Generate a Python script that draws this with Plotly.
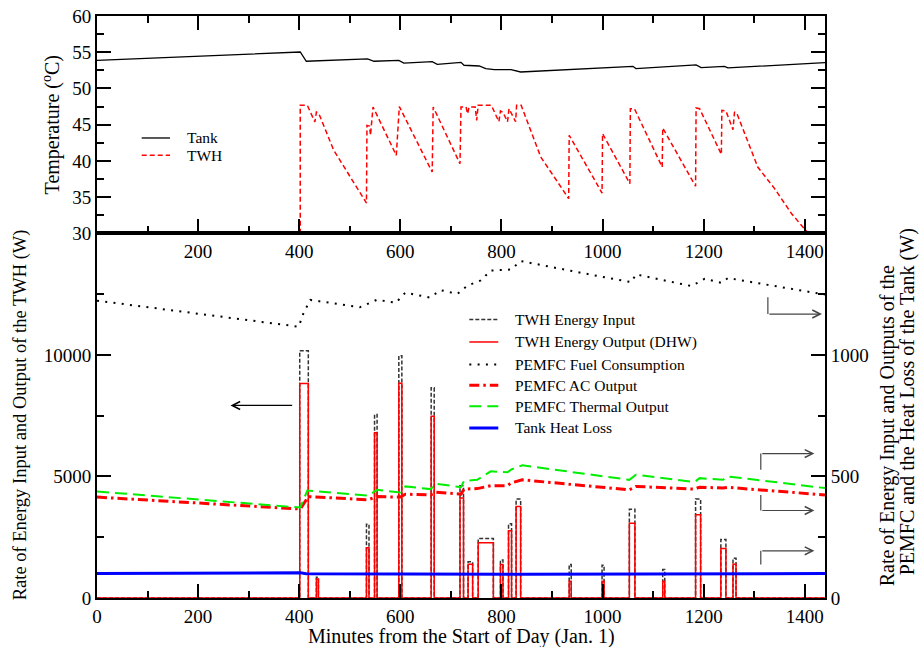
import plotly.graph_objects as go

# ---------------- data ----------------
# Top panel: temperatures (deg C)
tank_min = [0, 402, 414, 535, 548, 597, 607, 663, 673, 720, 726, 756, 769, 786, 819, 838,
            1060, 1066, 1185, 1195, 1241, 1248, 1440]
tank_temp = [53.88, 55.03, 53.75, 54.07, 53.75, 53.88, 53.5, 53.7, 53.33, 53.6, 53.2, 53.1, 52.74,
             52.6, 52.6, 52.27, 53.05, 52.74, 53.24, 52.87, 53.05, 52.83, 53.57]

twh_min = [402, 402, 416, 431, 434, 439, 468, 501, 533, 534, 539, 541, 546, 592, 598, 663, 665,
           718, 720, 730, 733, 736, 748, 751, 754, 780, 795, 798, 803, 812, 815, 828, 830, 839,
           878, 911, 933, 934, 999, 1000, 1054, 1055, 1063, 1118, 1119, 1184, 1185, 1192, 1235,
           1236, 1244, 1258, 1261, 1266, 1307, 1340, 1374, 1407, 1440]
twh_temp = [20, 47.67, 47.67, 45.37, 46.75, 46.5, 41.5, 37.8, 34.18, 44.9, 44.8, 43.53, 47.44,
            40.77, 47.5, 38.46, 47.44, 39.6, 47.44, 47.44, 46.5, 47.44, 47.44, 45.6, 47.67, 47.67,
            45.4, 46.9, 46.7, 45.4, 47.2, 45.4, 47.67, 47.67, 40.5, 37.1, 34.78, 43.53, 35.56,
            43.76, 36.86, 47.2, 47.2, 39.15, 44.54, 36.5, 47.3, 47.2, 40.9, 46.98, 46.9, 44.3,
            46.75, 46.5, 39.15, 36.2, 32.7, 30.0, 27.5]

# Bottom panel: TWH energy pulses (W, left axis)
pulse_start = [401, 434, 533, 549, 597, 661, 718, 734, 754, 798, 814, 829, 934, 999, 1053, 1119,
               1184, 1234, 1258]
pulse_end = [418, 438, 538, 554, 603, 667, 725, 743, 784, 803, 820, 838, 938, 1003, 1064, 1123,
             1194, 1244, 1264]
twh_input = [10170, 850, 3030, 7550, 9960, 8650, 4620, 1490, 2450, 1560, 3050, 4070, 1380, 1350,
             3650, 1170, 4070, 2410, 1630]
twh_output = [8820, 780, 2070, 6800, 8830, 7480, 4110, 1390, 2270, 1380, 2770, 3760, 690, 690,
              3070, 690, 3420, 2040, 1390]

# PEMFC and tank (W, right axis)
fuel_min = [0, 399, 409, 422, 520, 554, 591, 610, 658, 680, 713, 733, 759, 779, 819, 838, 984,
            1057, 1066, 1176, 1202, 1235, 1248, 1440]
fuel_w = [1223, 1116, 1175, 1226, 1196, 1227, 1214, 1256, 1236, 1266, 1251, 1285, 1306, 1347,
          1351, 1386, 1327, 1299, 1331, 1283, 1313, 1296, 1316, 1248]

ac_min = [0, 402, 418, 536, 554, 600, 610, 660, 670, 720, 726, 752, 779, 812, 819, 841, 1053,
          1066, 1182, 1192, 1238, 1248, 1440]
ac_w = [415, 366, 417, 404, 417, 415, 427, 424, 435, 427, 448, 450, 462, 462, 473, 486, 445,
        459, 448, 456, 452, 455, 424]

th_min = [0, 402, 416, 536, 554, 600, 610, 660, 670, 720, 726, 752, 779, 812, 819, 841, 1053,
          1066, 1182, 1192, 1238, 1248, 1440]
th_w = [438, 372, 442, 421, 445, 434, 459, 448, 470, 456, 482, 486, 521, 517, 528, 546, 486,
        507, 477, 493, 486, 500, 452]

loss_min = [0, 402, 414, 838, 1440]
loss_w = [101, 104, 100, 97.5, 100.5]

x_ticks = [0, 200, 400, 600, 800, 1000, 1200, 1400]
left_ticks = [0, 5000, 10000]
right_ticks = [0, 500, 1000]


def pulses_to_steps(starts, ends, heights):
    xs, ys = [0], [0]
    for s, e, h in zip(starts, ends, heights):
        xs += [s, e]
        ys += [h, 0]
    xs.append(1440)
    ys.append(0)
    return xs, ys


FONT = "Liberation Serif"
in_x, in_y = pulses_to_steps(pulse_start, pulse_end, twh_input)
out_x, out_y = pulses_to_steps(pulse_start, pulse_end, twh_output)

# line styles
st_tank = dict(color="black", width=1.3)
st_twh = dict(color="#ff0000", width=1.5, dash="5px,3px")
st_in = dict(color="#333333", width=1.5, dash="4px,2px")
st_out = dict(color="#ff0000", width=1.5)
st_fuel = dict(color="black", width=2, dash="2px,6.3px")
st_ac = dict(color="#ff0000", width=3, dash="10px,4px,2.5px,4px")
st_th = dict(color="#00ee00", width=2, dash="12px,6px")
st_loss = dict(color="#0000ff", width=3)

fig = go.Figure()
fig.add_trace(go.Scatter(x=tank_min, y=tank_temp, mode="lines", line=st_tank, name="Tank",
                         xaxis="x", yaxis="y"))
fig.add_trace(go.Scatter(x=twh_min, y=twh_temp, mode="lines", line=st_twh, name="TWH",
                         xaxis="x", yaxis="y"))
fig.add_trace(go.Scatter(x=in_x, y=in_y, mode="lines", line=dict(shape="hv", **st_in),
                         name="TWH Energy Input", xaxis="x2", yaxis="y2"))
fig.add_trace(go.Scatter(x=out_x, y=out_y, mode="lines", line=dict(shape="hv", **st_out),
                         name="TWH Energy Output (DHW)", xaxis="x2", yaxis="y2"))
fig.add_trace(go.Scatter(x=fuel_min, y=fuel_w, mode="lines", line=st_fuel,
                         name="PEMFC Fuel Consumption", xaxis="x2", yaxis="y3"))
fig.add_trace(go.Scatter(x=ac_min, y=ac_w, mode="lines", line=st_ac,
                         name="PEMFC AC Output", xaxis="x2", yaxis="y3"))
fig.add_trace(go.Scatter(x=th_min, y=th_w, mode="lines", line=st_th,
                         name="PEMFC Thermal Output", xaxis="x2", yaxis="y3"))
fig.add_trace(go.Scatter(x=loss_min, y=loss_w, mode="lines", line=st_loss,
                         name="Tank Heat Loss", xaxis="x2", yaxis="y3"))

split = 0.6266
common = dict(showgrid=False, zeroline=False, showline=True, linecolor="black", linewidth=2,
              ticks="inside", ticklen=14, tickwidth=1.5, tickcolor="black", automargin=False,
              ticklabeloverflow="allow",
              tickfont=dict(family=FONT, size=19, color="black"))


def minor(dt):
    return dict(ticks="inside", ticklen=7, tickwidth=1.5, tickcolor="black",
                tickmode="linear", tick0=0, dtick=dt, showgrid=False)


fig.update_layout(
    width=919, height=647,
    margin=dict(l=97, r=94, t=16, b=49, autoexpand=False),
    paper_bgcolor="white", plot_bgcolor="white",
    showlegend=False,
    xaxis=dict(anchor="y", domain=[0, 1], range=[0, 1440], mirror="ticks",
               tickmode="array", tickvals=x_ticks, ticktext=[""] + [str(v) for v in x_ticks[1:]],
               minor=minor(100), **common),
    yaxis=dict(anchor="x", domain=[split, 1], range=[30, 60], mirror="ticks",
               tickmode="linear", tick0=30, dtick=5, minor=dict(minor(2.5), tick0=30), **common),
    xaxis2=dict(anchor="y2", domain=[0, 1], range=[0, 1440], mirror=True,
                tickmode="array", tickvals=x_ticks, ticktext=[str(v) for v in x_ticks],
                minor=minor(100), **common),
    yaxis2=dict(anchor="x2", domain=[0, split], range=[0, 15000],
                tickmode="array", tickvals=left_ticks, ticktext=[str(v) for v in left_ticks],
                minor=minor(2500), **common),
    yaxis3=dict(anchor="x2", overlaying="y2", side="right", range=[0, 1500],
                tickmode="array", tickvals=right_ticks, ticktext=[str(v) for v in right_ticks],
                minor=minor(250), **common),
)

# ------------- axis titles -------------
def title(text, x, y, angle=0, size=20):
    fig.add_annotation(text=text, x=x, y=y, xref="paper", yref="paper", showarrow=False,
                       textangle=angle, xanchor="center", yanchor="middle",
                       font=dict(family=FONT, size=size, color="black"))


title("Temperature (<sup>o</sup>C)", -0.0622, 0.8132, -90)
title("Rate of Energy Input and Output of the TWH (W)", -0.1058, 0.3156, -90, 18.5)
title("Rate of Energy Input and Outputs of the", 1.0852, 0.295, -90)
title("PEMFC and the Heat Loss of the Tank (W)", 1.1126, 0.338, -90)
title("Minutes from the Start of Day (Jan. 1)", 0.5007, -0.067, 0)

# ------------- legends (drawn) -------------
def legend_item(style, label, x0, x1, xt, y):
    ln = dict(color=style["color"], width=style["width"])
    if "dash" in style:
        ln["dash"] = style["dash"]
    fig.add_shape(type="line", xref="paper", yref="paper", x0=x0, x1=x1, y0=y, y1=y, line=ln)
    fig.add_annotation(text=label, x=xt, y=y, xref="paper", yref="paper", showarrow=False,
                       xanchor="left", yanchor="middle",
                       font=dict(family=FONT, size=15.5, color="black"))


legend_item(st_tank, "Tank", 0.0614, 0.1003, 0.1209, 0.7904)
legend_item(st_twh, "TWH", 0.0614, 0.1003, 0.1209, 0.7607)

rows = [(st_in, "TWH Energy Input", 0.4784), (st_out, "TWH Energy Output (DHW)", 0.4399),
        (st_fuel, "PEMFC Fuel Consumption", 0.4010), (st_ac, "PEMFC AC Output", 0.3655),
        (st_th, "PEMFC Thermal Output", 0.3294), (st_loss, "Tank Heat Loss", 0.2921)]
for st, lab, yy in rows:
    legend_item(st, lab, 0.5114, 0.5512, 0.5710, yy)

# ------------- arrows -------------
ARROW = "#444444"
fig.add_annotation(text="", x=264, y=7920, ax=389, ay=7920, xref="x2", yref="y2",
                   axref="x2", ayref="y2", showarrow=True, arrowhead=5, arrowsize=1.3,
                   arrowwidth=1.2, arrowcolor="black")

right_arrows = [(1327, 1237, 1168, 1434), (1313, 528, 594, 1419), (1313, 424, 360, 1419),
                (1313, 138, 194, 1419)]
for xv, ystart, yend, xend in right_arrows:
    fig.add_shape(type="line", xref="x2", yref="y3", x0=xv, x1=xv, y0=ystart, y1=yend,
                  line=dict(color=ARROW, width=1.2))
    fig.add_annotation(text="", x=xend, y=yend, ax=xv, ay=yend, xref="x2", yref="y3",
                       axref="x2", ayref="y3", showarrow=True, arrowhead=5, arrowsize=1.3,
                       arrowwidth=1.2, arrowcolor=ARROW)

fig.write_html("out.html", config={"displayModeBar": False},
               post_script="document.body.style.margin='0';document.body.style.overflow='hidden';")
